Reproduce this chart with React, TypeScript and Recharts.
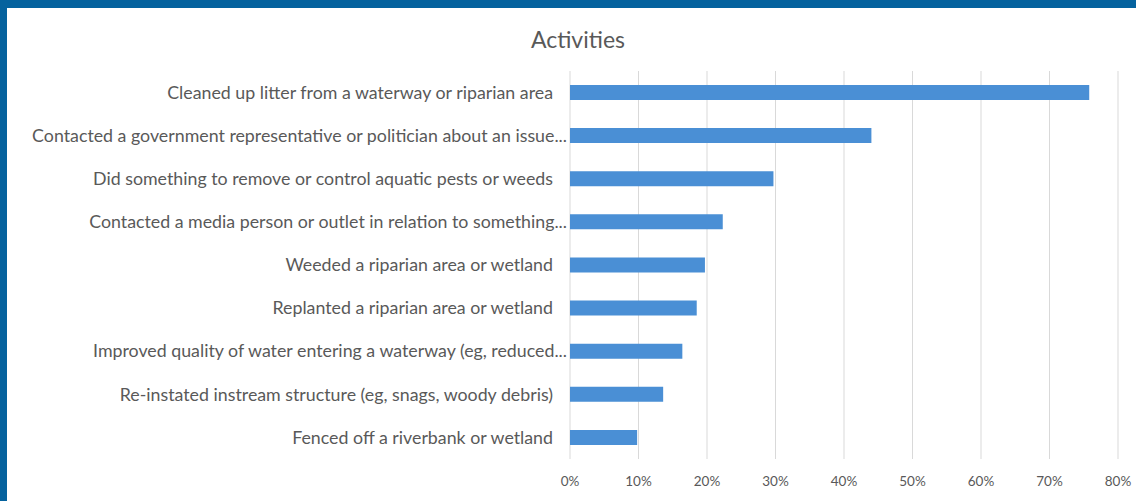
import { BarChart, Bar, XAxis, YAxis, CartesianGrid, Customized } from "recharts";

const ACTIVITIES = [
  "Cleaned up litter from a waterway or riparian area",
  "Contacted a government representative or politician about an issue...",
  "Did something to remove or control aquatic pests or weeds",
  "Contacted a media person or outlet in relation to something...",
  "Weeded a riparian area or wetland",
  "Replanted a riparian area or wetland",
  "Improved quality of water entering a waterway (eg, reduced...",
  "Re-instated instream structure (eg, snags, woody debris)",
  "Fenced off a riverbank or wetland",
];

const PERCENTS = [75.8, 44.0, 29.7, 22.3, 19.7, 18.5, 16.4, 13.6, 9.8];

const X_TICKS = [0, 10, 20, 30, 40, 50, 60, 70, 80];

const TITLE = "Activities";

const FONT = "Lato, 'Open Sans', sans-serif";
const TEXT = "#595959";
const FRAME = "#05629e";

// page is photographed edge to edge, so drop the default body margin
document.body.style.margin = "0";

const data = ACTIVITIES.map((name, i) => ({ name, value: PERCENTS[i] }));

function CategoryTick({ x, y, payload }: any) {
  const label: string = payload.value;
  // truncated labels run a little past the others, as in the original export
  const shift = label.endsWith("...") ? 14 : 0;
  return (
    <text
      x={x - 9 + shift}
      y={y}
      dy="0.35em"
      textAnchor="end"
      fill={TEXT}
      fontSize={17.8}
      fontFamily={FONT}
    >
      {label}
    </text>
  );
}

// blue slide frame on the top and left edge, plus the centred title
function Frame() {
  return (
    <g>
      <rect x={0} y={0} width={1136} height={8} fill={FRAME} />
      <rect x={0} y={0} width={7} height={501} fill={FRAME} />
      <text
        x={578}
        y={40}
        dy="0.35em"
        textAnchor="middle"
        fill={TEXT}
        fontSize={23}
        fontFamily={FONT}
      >
        {TITLE}
      </text>
    </g>
  );
}

export default function App() {
  return (
    <div style={{ width: 1136, height: 501, background: "#ffffff", overflow: "hidden" }}>
      <BarChart
        width={1136}
        height={501}
        data={data}
        layout="vertical"
        margin={{ top: 71, right: 18, bottom: 12, left: 0 }}
      >
        <CartesianGrid horizontal={false} stroke="#d9d9d9" />
        <XAxis
          type="number"
          domain={[0, 80]}
          ticks={X_TICKS}
          tickFormatter={(v) => `${v}%`}
          axisLine={false}
          tickLine={false}
          tickMargin={11}
          height={30}
          tick={{ fill: TEXT, fontSize: 13.5, fontFamily: FONT }}
        />
        <YAxis
          type="category"
          dataKey="name"
          width={570}
          axisLine={false}
          tickLine={false}
          tick={<CategoryTick />}
          interval={0}
        />
        <Bar dataKey="value" fill="#4a8fd5" barSize={15} isAnimationActive={false} />
        <Customized component={<Frame />} />
      </BarChart>
    </div>
  );
}
